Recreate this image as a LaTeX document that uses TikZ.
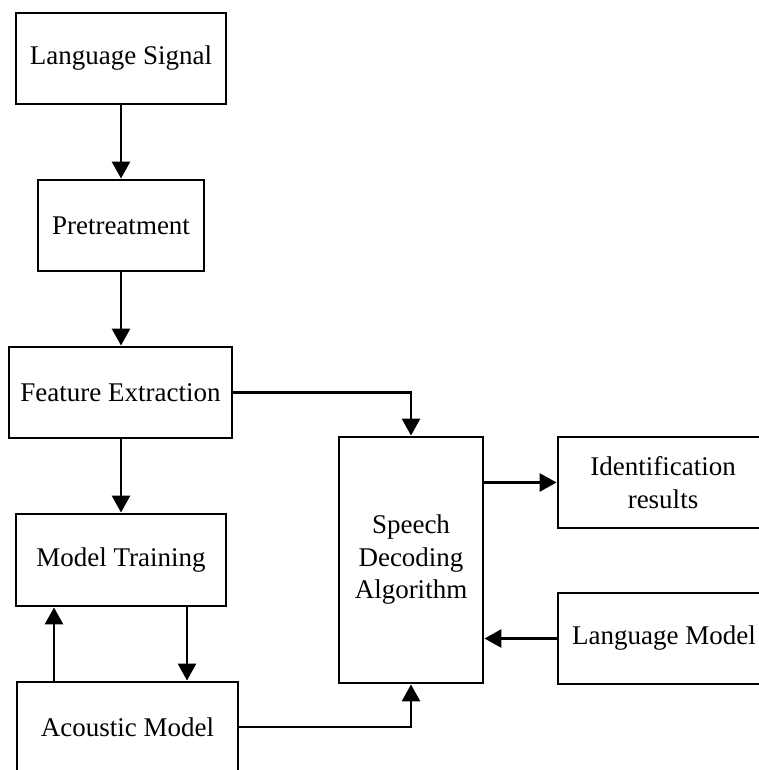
\documentclass[tikz,border=0pt]{standalone}
\usepackage{fontspec}
\setmainfont{Liberation Serif}
\usetikzlibrary{arrows.meta}
\begin{document}
\begin{tikzpicture}[x=1pt,y=-1pt,
  box/.style={draw,line width=2.9pt,rectangle,align=center,inner sep=0pt,
    font=\fontsize{27}{32.5}\selectfont},
  conn/.style={line width=2.9pt,-{Triangle[length=17pt,width=18pt]}}]
\useasboundingbox (0,0) rectangle (759,770);
\clip (0,0) rectangle (759,770);
\node[box,minimum width=210pt,minimum height=91pt] (sig) at (121,58.5) {Language Signal};
\node[box,minimum width=166pt,minimum height=91pt] (pre) at (121,225.5) {Pretreatment};
\node[box,minimum width=223pt,minimum height=91pt] (fe) at (120.5,392.5) {Feature Extraction};
\node[box,minimum width=210pt,minimum height=92pt] (mt) at (121,560) {Model Training};
\node[box,minimum width=221pt,minimum height=90pt] (am) at (127.5,727) {Acoustic Model};
\node[box,minimum width=144pt,minimum height=246pt] (sd) at (411,560) {Speech\\Decoding\\Algorithm};
\node[box,minimum width=210pt,minimum height=91pt] (id) at (663,482.5) {Identification\\results};
\node[box,minimum width=212pt,minimum height=91pt] (lm) at (664,638.5) {Language Model};
\coordinate (dn) at (187,0);
\coordinate (up) at (54,0);
\draw[conn] (sig.south) -- (pre.north);
\draw[conn] (pre.south) -- (pre.south |- fe.north);
\draw[conn] (fe.south -| mt.north) -- (mt.north);
\draw[conn] (fe.east) -| (sd.north);
\draw[conn] (mt.south -| dn) -- (am.north -| dn);
\draw[conn] (am.north -| up) -- (mt.south -| up);
\draw[conn] (sd.east |- id.west) -- (id.west);
\draw[conn] (lm.west) -- (sd.east |- lm.west);
\draw[conn] (am.east) -| (sd.south);
\end{tikzpicture}
\end{document}
